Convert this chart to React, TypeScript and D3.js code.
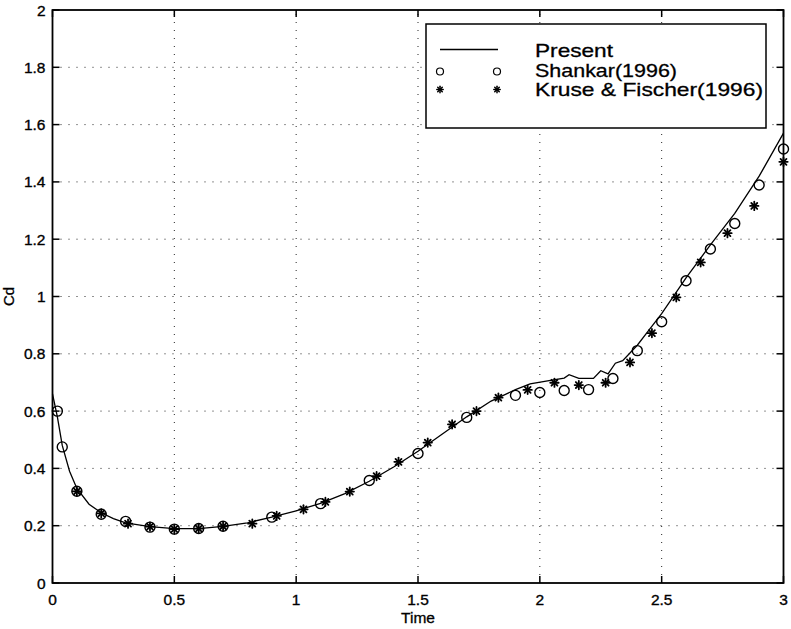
import React from "react";
import * as d3 from "d3";

const presentT = [0, 0.02, 0.04, 0.07, 0.1, 0.15, 0.2, 0.25, 0.3, 0.4, 0.5, 0.6, 0.7, 0.8, 0.9, 1.0, 1.1, 1.2, 1.3, 1.4, 1.5, 1.6, 1.7, 1.8, 1.9, 1.96, 2.05, 2.1, 2.12, 2.16, 2.22, 2.25, 2.28, 2.31, 2.34, 2.4, 2.45, 2.5, 2.6, 2.7, 2.8, 2.9, 3.0];
const presentCd = [0.66, 0.58, 0.48, 0.39, 0.33, 0.275, 0.245, 0.225, 0.21, 0.197, 0.19, 0.19, 0.198, 0.21, 0.23, 0.252, 0.278, 0.312, 0.355, 0.405, 0.46, 0.52, 0.58, 0.635, 0.675, 0.695, 0.708, 0.715, 0.727, 0.714, 0.714, 0.741, 0.73, 0.767, 0.776, 0.83, 0.885, 0.94, 1.065, 1.18, 1.29, 1.42, 1.57];

const shankarT = [0.02, 0.04, 0.1, 0.2, 0.3, 0.4, 0.5, 0.6, 0.7, 0.9, 1.1, 1.3, 1.5, 1.7, 1.9, 2.0, 2.1, 2.2, 2.3, 2.4, 2.5, 2.6, 2.7, 2.8, 2.9, 3.0];
const shankarCd = [0.6, 0.475, 0.32, 0.24, 0.215, 0.195, 0.188, 0.19, 0.198, 0.23, 0.277, 0.358, 0.452, 0.578, 0.655, 0.665, 0.672, 0.675, 0.714, 0.811, 0.912, 1.055, 1.166, 1.255, 1.389, 1.515];

const kruseT = [0.1, 0.2, 0.31, 0.4, 0.5, 0.6, 0.7, 0.82, 0.92, 1.03, 1.12, 1.22, 1.33, 1.42, 1.54, 1.64, 1.74, 1.83, 1.95, 2.06, 2.16, 2.27, 2.37, 2.46, 2.56, 2.66, 2.77, 2.88, 3.0];
const kruseCd = [0.32, 0.243, 0.207, 0.197, 0.188, 0.19, 0.198, 0.207, 0.234, 0.257, 0.283, 0.319, 0.373, 0.423, 0.49, 0.554, 0.6, 0.647, 0.674, 0.699, 0.691, 0.699, 0.77, 0.872, 0.997, 1.119, 1.221, 1.316, 1.47];

const xTicks = [0, 0.5, 1, 1.5, 2, 2.5, 3];
const yTicks = [0, 0.2, 0.4, 0.6, 0.8, 1, 1.2, 1.4, 1.6, 1.8, 2];
const legendLabels = ["Present", "Shankar(1996)", "Kruse & Fischer(1996)"];
const legendWidths = [78, 142, 228];

const W = 791, H = 629;
const L = 52.5, R = 783.5, T = 10, B = 583;
const FONT = "'Liberation Sans', Arial, Helvetica, sans-serif";

function Star({ x, y, s, sw }: { x: number; y: number; s: number; sw: number }) {
  const d = s * 0.7071;
  return (
    <g stroke="#000" strokeWidth={sw} strokeLinecap="round">
      <line x1={x - s} y1={y} x2={x + s} y2={y} />
      <line x1={x} y1={y - s} x2={x} y2={y + s} />
      <line x1={x - d} y1={y - d} x2={x + d} y2={y + d} />
      <line x1={x - d} y1={y + d} x2={x + d} y2={y - d} />
    </g>
  );
}

export default function App() {
  const x = d3.scaleLinear().domain([0, 3]).range([L, R]);
  const y = d3.scaleLinear().domain([0, 2]).range([B, T]);
  const line = d3.line<number>().x((_, i) => x(presentT[i])).y((v) => y(v));
  const fmt = (v: number) => String(+v.toFixed(1));

  const lx = 426, ly = 24, lw = 340, lh = 104;
  const rows = [49.5, 71.5, 89.5];
  const textBase = [57, 76.5, 96];

  return (
    <svg width={W} height={H} style={{ position: "absolute", left: 0, top: 0, background: "#fff" }} fontFamily={FONT}>
      <rect x={0} y={0} width={W} height={H} fill="#fff" />
      {/* grid */}
      <g stroke="#000" strokeWidth={1} strokeDasharray="1,7" opacity={0.85}>
        {xTicks.slice(1, -1).map((t) => (
          <line key={"gx" + t} x1={x(t)} x2={x(t)} y1={B} y2={T} />
        ))}
        {yTicks.slice(1, -1).map((t) => (
          <line key={"gy" + t} x1={L} x2={R} y1={y(t)} y2={y(t)} />
        ))}
      </g>
      {/* tick marks */}
      <g stroke="#000" strokeWidth={1.5}>
        {xTicks.map((t) => (
          <g key={"tx" + t}>
            <line x1={x(t)} x2={x(t)} y1={B} y2={B - 7} />
            <line x1={x(t)} x2={x(t)} y1={T} y2={T + 7} />
          </g>
        ))}
        {yTicks.map((t) => (
          <g key={"ty" + t}>
            <line x1={L} x2={L + 7} y1={y(t)} y2={y(t)} />
            <line x1={R} x2={R - 7} y1={y(t)} y2={y(t)} />
          </g>
        ))}
      </g>
      {/* tick labels */}
      <g fontSize={15.5} fill="#000" stroke="#000" strokeWidth={0.35}>
        {xTicks.map((t) => (
          <text key={"lx" + t} x={x(t)} y={604.5} textAnchor="middle">{fmt(t)}</text>
        ))}
        {yTicks.map((t) => (
          <text key={"ly" + t} x={45.5} y={y(t) + 5.5} textAnchor="end">{fmt(t)}</text>
        ))}
      </g>
      <text x={(L + R) / 2} y={623} textAnchor="middle" fontSize={15.5} stroke="#000" strokeWidth={0.3}>Time</text>
      <text transform={`translate(14,${(T + B) / 2}) rotate(-90)`} textAnchor="middle" fontSize={15} stroke="#000" strokeWidth={0.3}>Cd</text>

      {/* data */}
      <path d={line(presentCd) || ""} fill="none" stroke="#000" strokeWidth={1.3} />
      {shankarCd.map((v, i) => (
        <circle key={"s" + i} cx={x(shankarT[i])} cy={y(v)} r={5} fill="none" stroke="#000" strokeWidth={1.4} />
      ))}
      {kruseCd.map((v, i) => (
        <Star key={"k" + i} x={x(kruseT[i])} y={y(v)} s={4.2} sw={1.8} />
      ))}

      {/* frame */}
      <rect x={L} y={T} width={R - L} height={B - T} fill="none" stroke="#000" strokeWidth={1.8} />

      {/* legend */}
      <rect x={lx} y={ly} width={lw} height={lh} fill="#fff" stroke="#000" strokeWidth={1.5} />
      <line x1={440} x2={498} y1={rows[0]} y2={rows[0]} stroke="#000" strokeWidth={1.3} />
      <circle cx={440} cy={rows[1]} r={3.5} fill="none" stroke="#000" strokeWidth={1.2} />
      <circle cx={497} cy={rows[1]} r={3.5} fill="none" stroke="#000" strokeWidth={1.2} />
      <Star x={440} y={rows[2]} s={3.2} sw={1.5} />
      <Star x={497} y={rows[2]} s={3.2} sw={1.5} />
      {legendLabels.map((s, i) => (
        <text key={s} x={535} y={textBase[i]} fontSize={18.5} fill="#000" stroke="#000" strokeWidth={0.3}
          textLength={legendWidths[i]} lengthAdjust="spacingAndGlyphs">{s}</text>
      ))}
    </svg>
  );
}
